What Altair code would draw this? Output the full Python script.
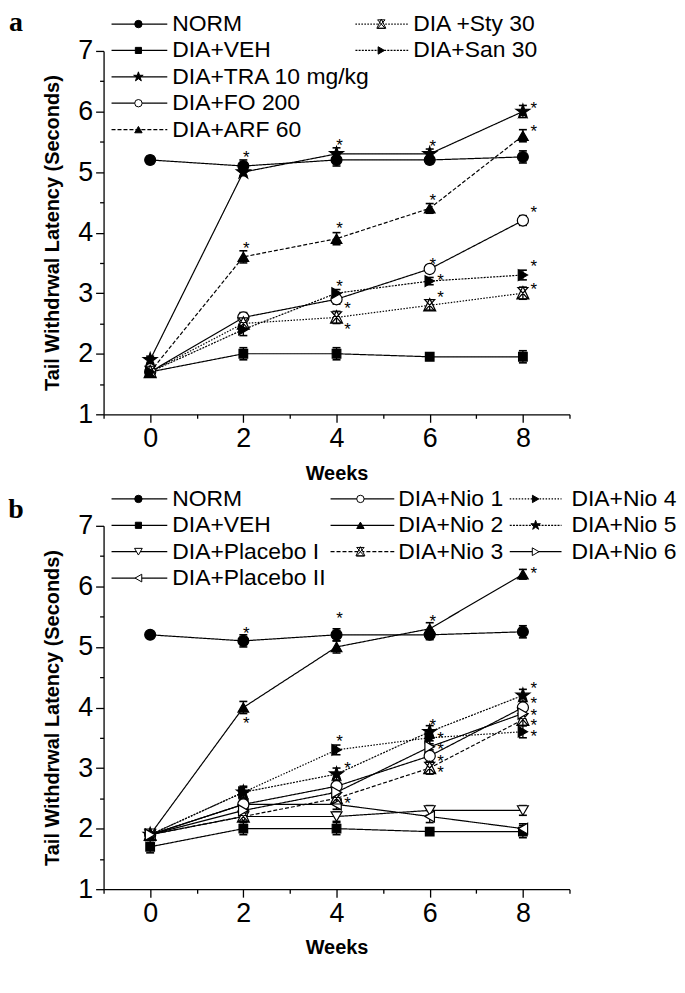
import altair as alt
import pandas as pd

WEEKS = [0, 2, 4, 6, 8]

# ---------------- panel a data ----------------
A_SERIES = ["NORM", "DIA+VEH", "DIA+TRA 10 mg/kg", "DIA+FO 200", "DIA+ARF 60",
            "DIA +Sty 30", "DIA+San 30"]
A_NORM = [5.2, 5.1, 5.2, 5.2, 5.25]
A_VEH = [1.7, 2.0, 2.0, 1.95, 1.95]
A_TRA = [1.9, 5.0, 5.3, 5.3, 6.0]
A_FO = [1.7, 2.6, 2.9, 3.4, 4.2]
A_ARF = [1.7, 3.6, 3.9, 4.4, 5.6]
A_STY = [1.7, 2.5, 2.6, 2.8, 3.0]
A_SAN = [1.7, 2.4, 3.0, 3.2, 3.3]
A_NORM_SEM = [0.06, 0.1, 0.1, 0.06, 0.1]
A_VEH_SEM = [0.06, 0.1, 0.1, 0.05, 0.1]
A_TRA_SEM = [0.06, 0.06, 0.1, 0.08, 0.1]
A_FO_SEM = [0.05, 0.08, 0.08, 0.06, 0.08]
A_ARF_SEM = [0.05, 0.1, 0.1, 0.08, 0.1]
A_STY_SEM = [0.05, 0.08, 0.1, 0.08, 0.1]
A_SAN_SEM = [0.05, 0.1, 0.06, 0.06, 0.08]
A_AST_TOP_WEEK = [2, 2, 4, 4, 4, 6, 6, 6]
A_AST_TOP_VAL = [5.3, 3.8, 5.5, 4.12, 3.17, 5.48, 4.58, 3.53]
A_AST_SIDE_WEEK = [4, 4, 6, 6, 8, 8, 8, 8, 8]
A_AST_SIDE_VAL = [2.81, 2.45, 3.27, 2.98, 6.1, 5.72, 4.39, 3.5, 3.12]

# ---------------- panel b data ----------------
B_SERIES = ["NORM", "DIA+VEH", "DIA+Placebo I", "DIA+Placebo II", "DIA+Nio 1",
            "DIA+Nio 2", "DIA+Nio 3", "DIA+Nio 4", "DIA+Nio 5", "DIA+Nio 6"]
B_NORM = [5.2, 5.1, 5.2, 5.2, 5.25]
B_VEH = [1.7, 2.0, 2.0, 1.95, 1.95]
B_PLAC1 = [1.9, 2.2, 2.2, 2.3, 2.3]
B_PLAC2 = [1.9, 2.4, 2.4, 2.2, 2.0]
B_NIO1 = [1.9, 2.4, 2.7, 3.2, 4.0]
B_NIO2 = [1.9, 4.0, 5.0, 5.3, 6.2]
B_NIO3 = [1.9, 2.2, 2.5, 3.0, 3.8]
B_NIO4 = [1.9, 2.6, 3.3, 3.5, 3.6]
B_NIO5 = [1.9, 2.6, 2.9, 3.6, 4.2]
B_NIO6 = [1.9, 2.3, 2.6, 3.35, 3.9]
B_NORM_SEM = [0.05, 0.1, 0.1, 0.08, 0.1]
B_VEH_SEM = [0.1, 0.1, 0.1, 0.05, 0.1]
B_PLAC1_SEM = [0.05, 0.08, 0.08, 0.08, 0.08]
B_PLAC2_SEM = [0.05, 0.08, 0.08, 0.1, 0.08]
B_NIO1_SEM = [0.05, 0.08, 0.1, 0.1, 0.1]
B_NIO2_SEM = [0.05, 0.1, 0.1, 0.1, 0.08]
B_NIO3_SEM = [0.05, 0.08, 0.08, 0.1, 0.1]
B_NIO4_SEM = [0.05, 0.08, 0.08, 0.1, 0.1]
B_NIO5_SEM = [0.05, 0.1, 0.1, 0.1, 0.1]
B_NIO6_SEM = [0.05, 0.08, 0.1, 0.1, 0.1]
B_AST_TOP_WEEK = [2, 2, 4, 4, 6, 6]
B_AST_TOP_VAL = [5.28, 3.79, 5.52, 3.49, 5.47, 3.76]
B_AST_SIDE_WEEK = [4, 4, 6, 6, 6, 6, 8, 8, 8, 8, 8, 8]
B_AST_SIDE_VAL = [3.05, 2.47, 3.54, 3.37, 3.17, 2.99, 6.27, 4.37, 4.12, 3.93, 3.76, 3.57]

# ---------------- styles ----------------
STAR = ("M0,-1L0.2245,-0.309L0.951,-0.309L0.363,0.118L0.588,0.809L0,0.382"
        "L-0.588,0.809L-0.363,0.118L-0.951,-0.309L-0.2245,-0.309Z")
XTRI = "M0,-1L0.9,0.85L-0.9,0.85Z M-0.75,-0.85L0.75,-0.85L-0.75,0.85L0.75,0.85Z"
SOLID = [1, 0]
DASH = [4, 2]
DOT = [1.5, 1.5]
DASHDOT = [2, 1.2]

# series -> (shape, fill, dash, plot size, legend size)
STYLE = {
    "NORM": ("circle", "black", SOLID, 120, 55),
    "DIA+VEH": ("square", "black", SOLID, 75, 38),
    "DIA+TRA 10 mg/kg": (STAR, "black", SOLID, 210, 100),
    "DIA+FO 200": ("circle", "white", SOLID, 125, 55),
    "DIA+ARF 60": ("triangle-up", "black", DASH, 115, 55),
    "DIA +Sty 30": (XTRI, "white", DOT, 180, 100),
    "DIA+San 30": ("triangle-right", "black", DASHDOT, 115, 55),
    "DIA+Placebo I": ("triangle-down", "white", SOLID, 120, 60),
    "DIA+Placebo II": ("triangle-left", "white", SOLID, 120, 60),
    "DIA+Nio 1": ("circle", "white", SOLID, 125, 55),
    "DIA+Nio 2": ("triangle-up", "black", DASH, 115, 55),
    "DIA+Nio 3": (XTRI, "white", DOT, 180, 100),
    "DIA+Nio 4": ("triangle-right", "black", DASHDOT, 115, 55),
    "DIA+Nio 5": (STAR, "black", SOLID, 210, 100),
    "DIA+Nio 6": ("triangle-right", "white", SOLID, 125, 60),
}

# legend layout (pixels relative to the plot area): column -> (line x1, line x2, marker x, text x)
A_LEG_COLS = {0: (8, 64, 35, 69), 1: (253, 306, 279, 311)}
B_LEG_COLS = {0: (8, 64, 35, 69), 1: (228, 292, 258, 296), 2: (408, 460, 434, 470)}
A_LEG_POS = [("NORM", 0, 0), ("DIA+VEH", 0, 1), ("DIA+TRA 10 mg/kg", 0, 2), ("DIA+FO 200", 0, 3),
             ("DIA+ARF 60", 0, 4), ("DIA +Sty 30", 1, 0), ("DIA+San 30", 1, 1)]
B_LEG_POS = [("NORM", 0, 0), ("DIA+VEH", 0, 1), ("DIA+Placebo I", 0, 2), ("DIA+Placebo II", 0, 3),
             ("DIA+Nio 1", 1, 0), ("DIA+Nio 2", 1, 1), ("DIA+Nio 3", 1, 2),
             ("DIA+Nio 4", 2, 0), ("DIA+Nio 5", 2, 1), ("DIA+Nio 6", 2, 2)]
LEG_ROW0 = -27
LEG_DY = 26.5

W, H = 468, 365
FONT = "Liberation Sans"


def panel(series, values, sems, top_w, top_v, side_w, side_v, leg_pos, leg_cols, label, label_y):
    rows = []
    for s, vals, es in zip(series, values, sems):
        shape, fill, dash, size, lsize = STYLE[s]
        for w, v, e in zip(WEEKS, vals, es):
            rows.append(dict(series=s, week=w, value=v, lo=v - e, hi=v + e,
                             mshape=shape, mfill=fill, msize=size))
    df = pd.DataFrame(rows)
    caps = pd.concat([df.assign(cap=df["lo"]), df.assign(cap=df["hi"])])

    xs = alt.Scale(domain=[-1, 9], nice=False, zero=False)
    ys = alt.Scale(domain=[1, 7], nice=False, zero=False)
    xaxis = alt.Axis(
        title="Weeks", values=[-1, 0, 1, 2, 3, 4, 5, 6, 7, 8, 9],
        labelExpr="(datum.value % 2 === 0 && datum.value >= 0 && datum.value <= 8) ? format(datum.value, 'd') : ''",
        tickSize={"condition": {"test": "datum.value % 2 === 0", "value": 8}, "value": 4},
        labelPadding=3, titlePadding=12, titleFontSize=20)
    yaxis = alt.Axis(
        title="Tail Withdrwal Latency (Seconds)",
        values=[1, 1.5, 2, 2.5, 3, 3.5, 4, 4.5, 5, 5.5, 6, 6.5, 7],
        labelExpr="datum.value % 1 === 0 ? format(datum.value, 'd') : ''",
        tickSize={"condition": {"test": "datum.value % 1 === 0", "value": 8}, "value": 4},
        labelPadding=3, titlePadding=15, titleFontSize=20)
    X = lambda f: alt.X(f, scale=xs, axis=xaxis)
    Y = lambda f: alt.Y(f, scale=ys, axis=yaxis)
    dash_scale = alt.Scale(domain=series, range=[STYLE[s][2] for s in series])

    lines = alt.Chart(df).mark_line(color="black", strokeWidth=1.2).encode(
        x=X("week:Q"), y=Y("value:Q"),
        detail="series:N",
        strokeDash=alt.StrokeDash("series:N", scale=dash_scale, legend=None),
        order="week:Q",
    )
    ebars = alt.Chart(df).mark_rule(color="black", strokeWidth=1.3).encode(
        x=X("week:Q"), y=Y("lo:Q"), y2="hi:Q",
    )
    ecaps = alt.Chart(caps).mark_point(shape="stroke", size=64, color="black",
                                       strokeWidth=1.6, opacity=1).encode(
        x=X("week:Q"), y=Y("cap:Q"),
    )
    points = alt.Chart(df).mark_point(filled=True, opacity=1, stroke="black",
                                      strokeWidth=1.2).encode(
        x=X("week:Q"), y=Y("value:Q"),
        shape=alt.Shape("mshape:N", scale=None, legend=None),
        fill=alt.Fill("mfill:N", scale=None, legend=None),
        size=alt.Size("msize:Q", scale=None, legend=None),
    )
    ast_top = alt.Chart(pd.DataFrame({"week": top_w, "val": top_v})).mark_text(
        text="*", font=FONT, fontSize=17, align="center", baseline="alphabetic",
        dx=3, dy=9, color="black").encode(x=X("week:Q"), y=Y("val:Q"))
    ast_side = alt.Chart(pd.DataFrame({"week": side_w, "val": side_v})).mark_text(
        text="*", font=FONT, fontSize=17, align="center", baseline="alphabetic",
        dx=11, dy=9, color="black").encode(x=X("week:Q"), y=Y("val:Q"))

    lrows = []
    for s, c, r in leg_pos:
        x1, x2, mx, tx = leg_cols[c]
        shape, fill, dash, size, lsize = STYLE[s]
        lrows.append(dict(series=s, lx1=x1, lx2=x2, mx=mx, tx=tx, ly=LEG_ROW0 + r * LEG_DY,
                          mshape=shape, mfill=fill, lsize=lsize))
    leg = pd.DataFrame(lrows)
    leg_rules = alt.Chart(leg).mark_rule(color="black", strokeWidth=1.2).encode(
        x=alt.X("lx1:Q", scale=None),
        x2="lx2:Q",
        y=alt.Y("ly:Q", scale=None),
        strokeDash=alt.StrokeDash("series:N", scale=dash_scale, legend=None),
    )
    leg_pts = alt.Chart(leg).mark_point(filled=True, opacity=1, stroke="black",
                                        strokeWidth=1).encode(
        x=alt.X("mx:Q", scale=None),
        y=alt.Y("ly:Q", scale=None),
        shape=alt.Shape("mshape:N", scale=None, legend=None),
        fill=alt.Fill("mfill:N", scale=None, legend=None),
        size=alt.Size("lsize:Q", scale=None, legend=None),
    )
    leg_txt = alt.Chart(leg).mark_text(align="left", baseline="middle", font=FONT,
                                       fontSize=23, color="black").encode(
        x=alt.X("tx:Q", scale=None),
        y=alt.Y("ly:Q", scale=None),
        text="series:N",
    )
    lab = alt.Chart(pd.DataFrame({"t": [label]})).mark_text(
        font="Liberation Serif", fontWeight="bold", fontSize=28, align="center",
        baseline="middle", color="black").encode(
        x=alt.value(-88), y=alt.value(label_y), text="t:N")

    return alt.layer(lines, ebars, ecaps, points, ast_top, ast_side,
                     leg_rules, leg_pts, leg_txt, lab).properties(width=W, height=H)


pa = panel(A_SERIES, [A_NORM, A_VEH, A_TRA, A_FO, A_ARF, A_STY, A_SAN],
           [A_NORM_SEM, A_VEH_SEM, A_TRA_SEM, A_FO_SEM, A_ARF_SEM, A_STY_SEM, A_SAN_SEM],
           A_AST_TOP_WEEK, A_AST_TOP_VAL, A_AST_SIDE_WEEK, A_AST_SIDE_VAL,
           A_LEG_POS, A_LEG_COLS, "a", -28)
pb = panel(B_SERIES, [B_NORM, B_VEH, B_PLAC1, B_PLAC2, B_NIO1, B_NIO2, B_NIO3, B_NIO4, B_NIO5, B_NIO6],
           [B_NORM_SEM, B_VEH_SEM, B_PLAC1_SEM, B_PLAC2_SEM, B_NIO1_SEM, B_NIO2_SEM, B_NIO3_SEM,
            B_NIO4_SEM, B_NIO5_SEM, B_NIO6_SEM],
           B_AST_TOP_WEEK, B_AST_TOP_VAL, B_AST_SIDE_WEEK, B_AST_SIDE_VAL,
           B_LEG_POS, B_LEG_COLS, "b", -16)

chart = alt.vconcat(pa, pb, spacing=112, bounds="flush").properties(
    padding={"left": 0, "top": -1, "right": 0, "bottom": 0}
).configure_view(stroke=None).configure_axis(
    grid=False, domainColor="black", tickColor="black", domainWidth=1.3, tickWidth=1.3,
    labelColor="black", titleColor="black", labelFont=FONT, labelFontSize=27,
    titleFont=FONT, titleFontWeight="bold",
)

chart.save("out.html", embed_options={"renderer": "svg", "actions": False})
